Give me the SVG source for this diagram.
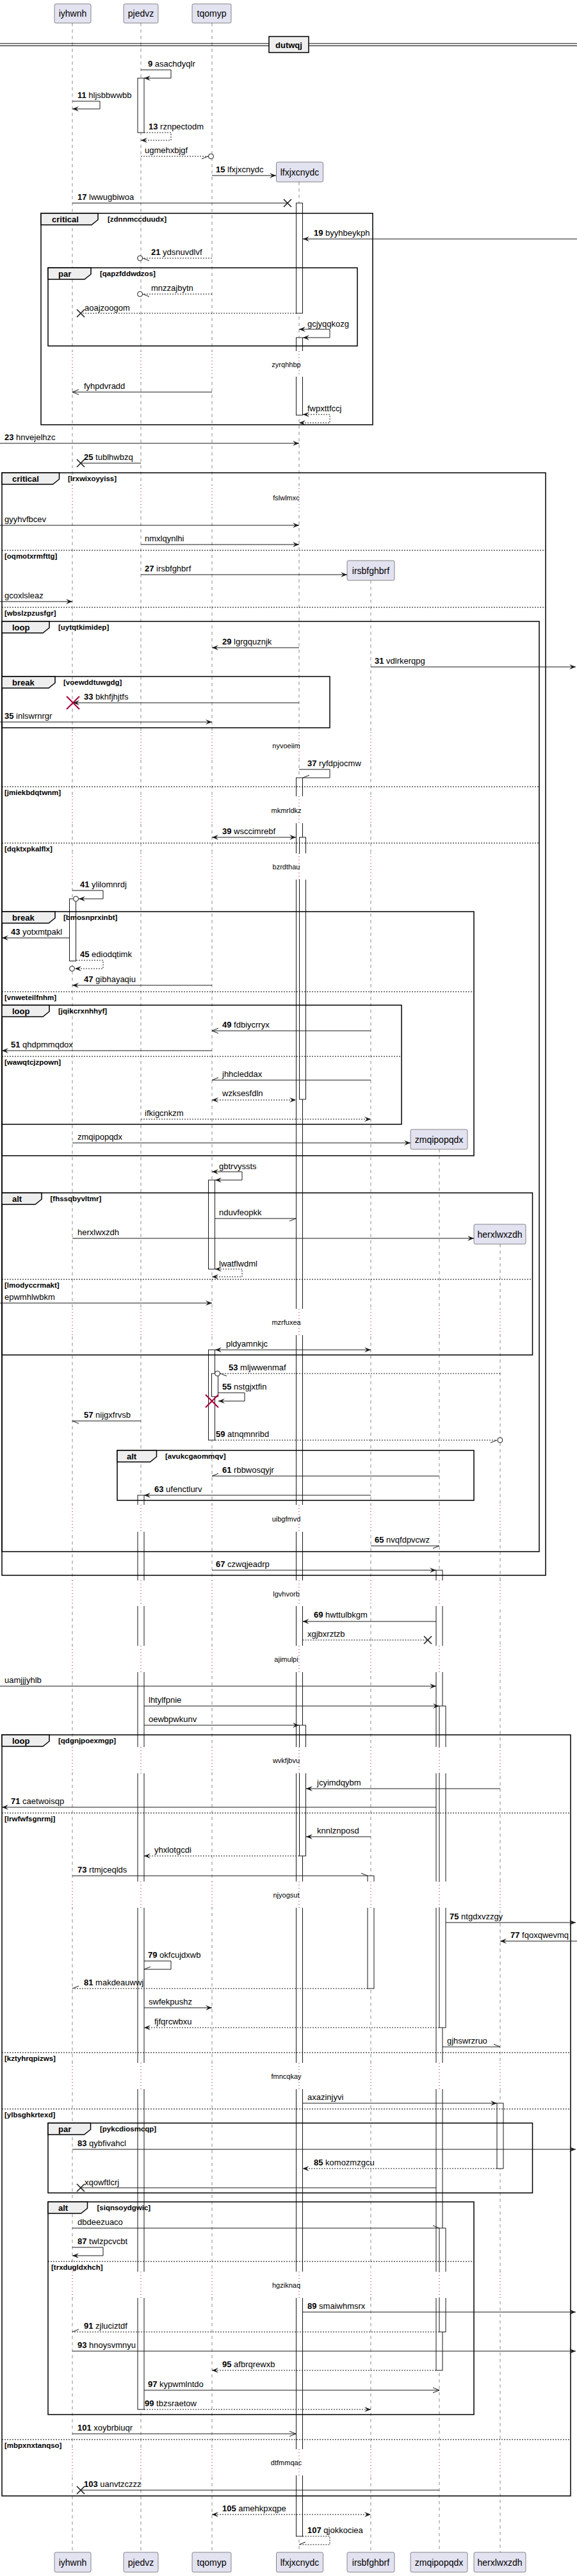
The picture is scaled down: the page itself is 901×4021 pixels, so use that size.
<svg xmlns="http://www.w3.org/2000/svg" width="901" height="4021" viewBox="0 0 901 4021">
<defs>
<style>
text{font-family:"Liberation Sans",Arial,sans-serif;fill:#000}
.pb{fill:#E2E2F0;stroke:#181818;stroke-width:0.5}
.pt{font-size:14px;text-anchor:middle}
.ll{stroke:#181818;stroke-width:0.5;stroke-dasharray:5,5;fill:none}
.dl{stroke:#A80036;stroke-width:1;stroke-dasharray:1,4;fill:none}
.wo{fill:#fff;stroke:none}
.act{fill:#fff;stroke:#181818;stroke-width:1}
.dt{font-size:11px;text-anchor:middle}
.fr{fill:none;stroke:#000;stroke-width:1.5}
.tab{fill:#EEEEEE;stroke:#000;stroke-width:1.5}
.ft{font-size:13px;font-weight:bold}
.fc{font-size:11.5px;font-weight:bold}
.sep{stroke:#000;stroke-width:1;stroke-dasharray:2,2}
.m{fill:none;stroke:#181818;stroke-width:1}
.d{stroke-dasharray:2,2}
.ml{font-size:13px}
.n{font-weight:bold}
.x{stroke:#181818;stroke-width:1.5;fill:none}
.dx{stroke:#A80036;stroke-width:2;fill:none}
.oc{fill:#fff;stroke:#181818;stroke-width:1}
.dv{stroke:#000;stroke-width:1}
.dvb{fill:#EEEEEE;stroke:#000;stroke-width:1.5}
.dvt{font-size:13px;font-weight:bold;text-anchor:middle}
</style>
<marker id="af" viewBox="-1 -1 12 10" refX="10" refY="4" markerWidth="12" markerHeight="10" markerUnits="userSpaceOnUse" orient="auto-start-reverse"><path d="M0,0 L10,4 L0,8 L4,4 Z" fill="#181818"/></marker>
<marker id="ao" viewBox="-1 -1 12 10" refX="10" refY="4" markerWidth="12" markerHeight="10" markerUnits="userSpaceOnUse" orient="auto-start-reverse"><path d="M0,0 L10,4 L0,8" fill="none" stroke="#181818" stroke-width="1"/></marker>
<marker id="hu" viewBox="-1 -1 12 10" refX="10" refY="4" markerWidth="12" markerHeight="10" markerUnits="userSpaceOnUse" orient="auto"><path d="M0,0 L10,4" fill="none" stroke="#181818" stroke-width="1"/></marker>
<marker id="hl" viewBox="-1 -1 12 10" refX="10" refY="4" markerWidth="12" markerHeight="10" markerUnits="userSpaceOnUse" orient="auto"><path d="M0,8 L10,4" fill="none" stroke="#181818" stroke-width="1"/></marker>
</defs>
<rect x="0" y="0" width="901" height="4021" fill="#fff"/>

<g id="lifelines">
<line class="ll" x1="113" y1="36" x2="113" y2="3984"/>
<line class="ll" x1="220" y1="36" x2="220" y2="3984"/>
<line class="ll" x1="331" y1="36" x2="331" y2="3984"/>
<line class="ll" x1="467" y1="284" x2="467" y2="3984"/>
<line class="ll" x1="579" y1="906" x2="579" y2="3984"/>
<line class="ll" x1="686" y1="1794" x2="686" y2="3984"/>
<line class="ll" x1="781" y1="1942" x2="781" y2="3984"/>
</g>

<g id="activations">
<rect class="act" x="215" y="122" width="10" height="85"/>
<rect class="act" x="462.5" y="317" width="10" height="172"/>
<rect class="act" x="462.5" y="527" width="10" height="121"/>
<rect class="act" x="462.5" y="1214" width="10" height="2745"/>
<rect class="act" x="467.5" y="1307" width="10" height="409"/>
<rect class="act" x="467.5" y="2693" width="10" height="204"/>
<rect class="act" x="108.5" y="1403" width="10" height="97"/>
<rect class="act" x="325.5" y="1842" width="10" height="139"/>
<rect class="act" x="325.5" y="2107" width="10" height="141"/>
<rect class="act" x="330.5" y="2144" width="10" height="36"/>
<rect class="act" x="215" y="2334" width="10" height="1427"/>
<rect class="act" x="681" y="2451" width="10" height="1249"/>
<rect class="act" x="686" y="2663" width="10" height="502"/>
<rect class="act" x="686" y="3478" width="10" height="162"/>
<rect class="act" x="574" y="2928" width="10" height="176"/>
<rect class="act" x="776" y="3283" width="10" height="102"/>
</g>

<g id="delays">
<g><rect class="wo" x="101" y="548" width="24" height="40"/><rect class="wo" x="208" y="548" width="24" height="40"/><rect class="wo" x="319" y="548" width="24" height="40"/><rect class="wo" x="455" y="548" width="24" height="40"/>
<path class="dl" d="M113,548V588M220,548V588M331,548V588M467,548V588"/><text class="dt" x="447" y="573">zyrqhhbp</text></g>
<g><rect class="wo" x="101" y="757" width="24" height="40"/><rect class="wo" x="208" y="757" width="24" height="40"/><rect class="wo" x="319" y="757" width="24" height="40"/><rect class="wo" x="455" y="757" width="24" height="40"/>
<path class="dl" d="M113,757V797M220,757V797M331,757V797M467,757V797"/><text class="dt" x="447" y="781">fslwlmxc</text></g>
<g><rect class="wo" x="101" y="1143" width="24" height="42"/><rect class="wo" x="208" y="1143" width="24" height="42"/><rect class="wo" x="319" y="1143" width="24" height="42"/><rect class="wo" x="455" y="1143" width="24" height="42"/><rect class="wo" x="567" y="1143" width="24" height="42"/>
<path class="dl" d="M113,1143V1185M220,1143V1185M331,1143V1185M467,1143V1185M579,1143V1185"/><text class="dt" x="447" y="1168">nyvoeiim</text></g>
<g><rect class="wo" x="101" y="1243" width="24" height="42"/><rect class="wo" x="208" y="1243" width="24" height="42"/><rect class="wo" x="319" y="1243" width="24" height="42"/><rect class="wo" x="455" y="1243" width="24" height="42"/><rect class="wo" x="567" y="1243" width="24" height="42"/>
<path class="dl" d="M113,1243V1285M220,1243V1285M331,1243V1285M467,1243V1285M579,1243V1285"/><text class="dt" x="447" y="1269">mkmrldkz</text></g>
<g><rect class="wo" x="101" y="1332" width="24" height="41"/><rect class="wo" x="208" y="1332" width="24" height="41"/><rect class="wo" x="319" y="1332" width="24" height="41"/><rect class="wo" x="455" y="1332" width="24" height="41"/><rect class="wo" x="567" y="1332" width="24" height="41"/>
<path class="dl" d="M113,1332V1373M220,1332V1373M331,1332V1373M467,1332V1373M579,1332V1373"/><text class="dt" x="447" y="1357">bzrdthau</text></g>
<g><rect class="wo" x="101" y="2043" width="24" height="41"/><rect class="wo" x="208" y="2043" width="24" height="41"/><rect class="wo" x="319" y="2043" width="24" height="41"/><rect class="wo" x="455" y="2043" width="24" height="41"/><rect class="wo" x="567" y="2043" width="24" height="41"/><rect class="wo" x="674" y="2043" width="24" height="41"/><rect class="wo" x="769" y="2043" width="24" height="41"/>
<path class="dl" d="M113,2043V2084M220,2043V2084M331,2043V2084M467,2043V2084M579,2043V2084M686,2043V2084M781,2043V2084"/><text class="dt" x="447" y="2068">mzrfuxea</text></g>
<g><rect class="wo" x="101" y="2349" width="24" height="42"/><rect class="wo" x="208" y="2349" width="24" height="42"/><rect class="wo" x="319" y="2349" width="24" height="42"/><rect class="wo" x="455" y="2349" width="24" height="42"/><rect class="wo" x="567" y="2349" width="24" height="42"/><rect class="wo" x="674" y="2349" width="24" height="42"/><rect class="wo" x="769" y="2349" width="24" height="42"/>
<path class="dl" d="M113,2349V2391M220,2349V2391M331,2349V2391M467,2349V2391M579,2349V2391M686,2349V2391M781,2349V2391"/><text class="dt" x="447" y="2375">uibgfmvd</text></g>
<g><rect class="wo" x="101" y="2467" width="24" height="40"/><rect class="wo" x="208" y="2467" width="24" height="40"/><rect class="wo" x="319" y="2467" width="24" height="40"/><rect class="wo" x="455" y="2467" width="24" height="40"/><rect class="wo" x="567" y="2467" width="24" height="40"/><rect class="wo" x="674" y="2467" width="24" height="40"/><rect class="wo" x="769" y="2467" width="24" height="40"/>
<path class="dl" d="M113,2467V2507M220,2467V2507M331,2467V2507M467,2467V2507M579,2467V2507M686,2467V2507M781,2467V2507"/><text class="dt" x="447" y="2492">lgvhvorb</text></g>
<g><rect class="wo" x="101" y="2569" width="24" height="41"/><rect class="wo" x="208" y="2569" width="24" height="41"/><rect class="wo" x="319" y="2569" width="24" height="41"/><rect class="wo" x="455" y="2569" width="24" height="41"/><rect class="wo" x="567" y="2569" width="24" height="41"/><rect class="wo" x="674" y="2569" width="24" height="41"/><rect class="wo" x="769" y="2569" width="24" height="41"/>
<path class="dl" d="M113,2569V2610M220,2569V2610M331,2569V2610M467,2569V2610M579,2569V2610M686,2569V2610M781,2569V2610"/><text class="dt" x="447" y="2594">ajimulpi</text></g>
<g><rect class="wo" x="101" y="2727" width="24" height="41"/><rect class="wo" x="208" y="2727" width="24" height="41"/><rect class="wo" x="319" y="2727" width="24" height="41"/><rect class="wo" x="455" y="2727" width="24" height="41"/><rect class="wo" x="567" y="2727" width="24" height="41"/><rect class="wo" x="674" y="2727" width="24" height="41"/><rect class="wo" x="769" y="2727" width="24" height="41"/>
<path class="dl" d="M113,2727V2768M220,2727V2768M331,2727V2768M467,2727V2768M579,2727V2768M686,2727V2768M781,2727V2768"/><text class="dt" x="447" y="2752">wvkfjbvu</text></g>
<g><rect class="wo" x="101" y="2937" width="24" height="41"/><rect class="wo" x="208" y="2937" width="24" height="41"/><rect class="wo" x="319" y="2937" width="24" height="41"/><rect class="wo" x="455" y="2937" width="24" height="41"/><rect class="wo" x="567" y="2937" width="24" height="41"/><rect class="wo" x="674" y="2937" width="24" height="41"/><rect class="wo" x="769" y="2937" width="24" height="41"/>
<path class="dl" d="M113,2937V2978M220,2937V2978M331,2937V2978M467,2937V2978M579,2937V2978M686,2937V2978M781,2937V2978"/><text class="dt" x="447" y="2962">njyogsut</text></g>
<g><rect class="wo" x="101" y="3220" width="24" height="41"/><rect class="wo" x="208" y="3220" width="24" height="41"/><rect class="wo" x="319" y="3220" width="24" height="41"/><rect class="wo" x="455" y="3220" width="24" height="41"/><rect class="wo" x="567" y="3220" width="24" height="41"/><rect class="wo" x="674" y="3220" width="24" height="41"/><rect class="wo" x="769" y="3220" width="24" height="41"/>
<path class="dl" d="M113,3220V3261M220,3220V3261M331,3220V3261M467,3220V3261M579,3220V3261M686,3220V3261M781,3220V3261"/><text class="dt" x="447" y="3245">fmncqkay</text></g>
<g><rect class="wo" x="101" y="3546" width="24" height="41"/><rect class="wo" x="208" y="3546" width="24" height="41"/><rect class="wo" x="319" y="3546" width="24" height="41"/><rect class="wo" x="455" y="3546" width="24" height="41"/><rect class="wo" x="567" y="3546" width="24" height="41"/><rect class="wo" x="674" y="3546" width="24" height="41"/><rect class="wo" x="769" y="3546" width="24" height="41"/>
<path class="dl" d="M113,3546V3587M220,3546V3587M331,3546V3587M467,3546V3587M579,3546V3587M686,3546V3587M781,3546V3587"/><text class="dt" x="447" y="3571">hgziknaq</text></g>
<g><rect class="wo" x="101" y="3823" width="24" height="41"/><rect class="wo" x="208" y="3823" width="24" height="41"/><rect class="wo" x="319" y="3823" width="24" height="41"/><rect class="wo" x="455" y="3823" width="24" height="41"/><rect class="wo" x="567" y="3823" width="24" height="41"/><rect class="wo" x="674" y="3823" width="24" height="41"/><rect class="wo" x="769" y="3823" width="24" height="41"/>
<path class="dl" d="M113,3823V3864M220,3823V3864M331,3823V3864M467,3823V3864M579,3823V3864M686,3823V3864M781,3823V3864"/><text class="dt" x="447" y="3848">dtfmmqac</text></g>
</g>

<g id="participants">
<g id="p-iyhwnh"><rect class="pb" x="85" y="6" width="57" height="30" rx="2.5"/><text class="pt" x="113.5" y="26">iyhwnh</text><rect class="pb" x="85" y="3984" width="57" height="31" rx="2.5"/><text class="pt" x="113.5" y="4005">iyhwnh</text></g>
<g id="p-pjedvz"><rect class="pb" x="193" y="6" width="54" height="30" rx="2.5"/><text class="pt" x="220" y="26">pjedvz</text><rect class="pb" x="193" y="3984" width="54" height="31" rx="2.5"/><text class="pt" x="220" y="4005">pjedvz</text></g>
<g id="p-tqomyp"><rect class="pb" x="300" y="6" width="61" height="30" rx="2.5"/><text class="pt" x="330.5" y="26">tqomyp</text><rect class="pb" x="300" y="3984" width="61" height="31" rx="2.5"/><text class="pt" x="330.5" y="4005">tqomyp</text></g>
<g id="p-lfxjxcnydc"><rect class="pb" x="431.5" y="253" width="73" height="31" rx="2.5"/><text class="pt" x="468" y="274">lfxjxcnydc</text><rect class="pb" x="431.5" y="3984" width="73" height="31" rx="2.5"/><text class="pt" x="468" y="4005">lfxjxcnydc</text></g>
<g id="p-irsbfghbrf"><rect class="pb" x="542" y="875" width="74" height="31" rx="2.5"/><text class="pt" x="579" y="896">irsbfghbrf</text><rect class="pb" x="542" y="3984" width="74" height="31" rx="2.5"/><text class="pt" x="579" y="4005">irsbfghbrf</text></g>
<g id="p-zmqipopqdx"><rect class="pb" x="641" y="1763" width="89" height="31" rx="2.5"/><text class="pt" x="685.5" y="1784">zmqipopqdx</text><rect class="pb" x="641" y="3984" width="89" height="31" rx="2.5"/><text class="pt" x="685.5" y="4005">zmqipopqdx</text></g>
<g id="p-herxlwxzdh"><rect class="pb" x="740" y="1911" width="81" height="31" rx="2.5"/><text class="pt" x="780.5" y="1932">herxlwxzdh</text><rect class="pb" x="740" y="3984" width="81" height="31" rx="2.5"/><text class="pt" x="780.5" y="4005">herxlwxzdh</text></g>
</g>

<g id="divider">
<line class="dv" x1="0" y1="68" x2="901" y2="68"/><line class="dv" x1="0" y1="71.5" x2="901" y2="71.5"/>
<rect class="dvb" x="420" y="57" width="62" height="25"/><text class="dvt" x="451" y="75">dutwqj</text>
</g>

<g id="frames">
<g id="f1"><rect class="fr" x="64" y="333" width="518" height="330"/><path class="tab" d="M64,333H153V343L143,351H64Z"/><text class="ft" x="81" y="347">critical</text><text class="fc" x="168" y="346">[zdnnmccduudx]</text></g>
<g id="f2"><rect class="fr" x="75" y="418" width="483" height="122"/><path class="tab" d="M75,418H142V428L132,436H75Z"/><text class="ft" x="91" y="432">par</text><text class="fc" x="156" y="431">[qapzfddwdzos]</text></g>
<g id="f3"><rect class="fr" x="3" y="738" width="849" height="1721"/><path class="tab" d="M3,738H92.5V748L82.5,756H3Z"/><text class="ft" x="19" y="752">critical</text><text class="fc" x="106" y="751">[lrxwixoyyiss]</text>
<line class="sep" x1="3" y1="859" x2="852" y2="859"/><text class="fc" x="7" y="871.5">[oqmotxrmfttg]</text>
<line class="sep" x1="3" y1="948" x2="852" y2="948"/><text class="fc" x="7" y="960.5">[wbslzpzusfgr]</text></g>
<g id="f4"><rect class="fr" x="3" y="970" width="839" height="1452"/><path class="tab" d="M3,970H77V980L67,988H3Z"/><text class="ft" x="19" y="984">loop</text><text class="fc" x="91" y="983">[uytqtkimidep]</text>
<line class="sep" x1="3" y1="1228" x2="842" y2="1228"/><text class="fc" x="7" y="1240.5">[jmiekbdqtwnm]</text>
<line class="sep" x1="3" y1="1316" x2="842" y2="1316"/><text class="fc" x="7" y="1328.5">[dqktxpkalflx]</text></g>
<g id="f5"><rect class="fr" x="3" y="1056" width="512" height="80"/><path class="tab" d="M3,1056H86V1066L76,1074H3Z"/><text class="ft" x="19" y="1070">break</text><text class="fc" x="99" y="1069">[voewddtuwgdg]</text></g>
<g id="f6"><rect class="fr" x="3" y="1423" width="737" height="381"/><path class="tab" d="M3,1423H86V1433L76,1441H3Z"/><text class="ft" x="19" y="1437">break</text><text class="fc" x="99" y="1436">[bmosnprxinbt]</text>
<line class="sep" x1="3" y1="1548" x2="740" y2="1548"/><text class="fc" x="7" y="1560.5">[vnweteilfnhm]</text></g>
<g id="f7"><rect class="fr" x="3" y="1569" width="624" height="186"/><path class="tab" d="M3,1569H77V1579L67,1587H3Z"/><text class="ft" x="19" y="1583">loop</text><text class="fc" x="91" y="1582">[jqikcrxnhhyf]</text>
<line class="sep" x1="3" y1="1649" x2="627" y2="1649"/><text class="fc" x="7" y="1661.5">[wawqtcjzpown]</text></g>
<g id="f8"><rect class="fr" x="3" y="1862" width="828.5" height="253"/><path class="tab" d="M3,1862H65V1872L55,1880H3Z"/><text class="ft" x="19" y="1876">alt</text><text class="fc" x="78.5" y="1875">[fhssqbyvltmr]</text>
<line class="sep" x1="3" y1="1997" x2="831.5" y2="1997"/><text class="fc" x="7" y="2009.5">[lmodyccrmakt]</text></g>
<g id="f9"><rect class="fr" x="183" y="2264" width="557" height="78"/><path class="tab" d="M183,2264H244.5V2274L234.5,2282H183Z"/><text class="ft" x="198" y="2278">alt</text><text class="fc" x="258" y="2277">[avukcgaommqv]</text></g>
<g id="f10"><rect class="fr" x="3" y="2708" width="888" height="1188"/><path class="tab" d="M3,2708H77V2718L67,2726H3Z"/><text class="ft" x="19" y="2722">loop</text><text class="fc" x="91" y="2721">[qdgnjpoexmgp]</text>
<line class="sep" x1="3" y1="2830" x2="891" y2="2830"/><text class="fc" x="7" y="2842.5">[lrwfwfsgnrmj]</text>
<line class="sep" x1="3" y1="3204" x2="891" y2="3204"/><text class="fc" x="7" y="3216.5">[kztyhrqpizws]</text>
<line class="sep" x1="3" y1="3292" x2="891" y2="3292"/><text class="fc" x="7" y="3304.5">[ylbsghkrtexd]</text>
<line class="sep" x1="3" y1="3808" x2="891" y2="3808"/><text class="fc" x="7" y="3820.5">[mbpxnxtanqso]</text></g>
<g id="f11"><rect class="fr" x="75" y="3314" width="756.5" height="109"/><path class="tab" d="M75,3314H141.5V3324L131.5,3332H75Z"/><text class="ft" x="91" y="3328">par</text><text class="fc" x="156" y="3327">[pykcdiosmcqp]</text></g>
<g id="f12"><rect class="fr" x="75" y="3437" width="665" height="332"/><path class="tab" d="M75,3437H136.5V3447L126.5,3455H75Z"/><text class="ft" x="91" y="3451">alt</text><text class="fc" x="151.5" y="3450">[siqnsoydgwic]</text>
<line class="sep" x1="75" y1="3530" x2="740" y2="3530"/><text class="fc" x="80" y="3542.5">[trxdugldxhch]</text></g>
</g>

<g id="connectors">
<path class="m" d="M220,109H267V122H225" marker-end="url(#af)"/>
<path class="m" d="M113,158H156V170H113" marker-end="url(#af)"/>
<path class="m d" d="M225,207H267V219H220" marker-end="url(#af)"/>
<path class="m d" d="M220,244H325" marker-end="url(#hl)"/><circle class="oc" cx="329.5" cy="244" r="4"/>
<path class="m" d="M331,274H431" marker-end="url(#af)"/>
<path class="m" d="M113,317H449"/><path class="x" d="M443,311L455,323M455,311L443,323"/>
<path class="m" d="M901,373H473" marker-end="url(#af)"/>
<path class="m d" d="M331,403H223" marker-end="url(#hu)"/><circle class="oc" cx="218.6" cy="403" r="4"/>
<path class="m d" d="M331,459H223" marker-end="url(#hu)"/><circle class="oc" cx="218.6" cy="459" r="4"/>
<path class="m d" d="M463,489H126"/><path class="x" d="M120,483L132,495M132,483L120,495"/>
<path class="m" d="M467,514H515V527H473" marker-start="url(#af)" marker-end="url(#af)"/>
<path class="m" d="M331,612H113" marker-end="url(#ao)"/>
<path class="m d" d="M473,647H515V660H467" marker-start="url(#af)" marker-end="url(#af)"/>
<path class="m" d="M0,692H467" marker-end="url(#af)"/>
<path class="m" d="M220,723H126"/><path class="x" d="M120,717L132,729M132,717L120,729"/>
<path class="m" d="M0,820H467" marker-end="url(#af)"/>
<path class="m" d="M220,850H467" marker-end="url(#af)"/>
<path class="m" d="M220,897H542" marker-end="url(#af)"/>
<path class="m" d="M0,939H113" marker-end="url(#af)"/>
<path class="m" d="M467,1011H331" marker-end="url(#af)"/>
<path class="m" d="M579,1041H899" marker-end="url(#af)"/>
<path class="m" d="M467,1097H114" marker-end="url(#af)"/><path class="dx" d="M104,1087L124,1107M124,1087L104,1107"/>
<path class="m" d="M0,1127H331" marker-end="url(#af)"/>
<path class="m" d="M467,1201H515V1214H473" marker-end="url(#hl)"/>
<path class="m" d="M331,1307H462" marker-start="url(#af)" marker-end="url(#af)"/>
<path class="m" d="M113,1390H161V1403H123" marker-end="url(#af)"/><circle class="oc" cx="118.5" cy="1403" r="4"/>
<path class="m" d="M109,1464H3" marker-end="url(#af)"/>
<path class="m d" d="M119,1499H161V1512H117" marker-end="url(#af)"/><circle class="oc" cx="112.5" cy="1512" r="4"/>
<path class="m" d="M331,1538H113" marker-end="url(#af)"/>
<path class="m" d="M579,1609H331" marker-end="url(#ao)"/>
<path class="m" d="M331,1640H3" marker-end="url(#af)"/>
<path class="m" d="M579,1686H331" marker-end="url(#hl)"/>
<path class="m d" d="M331,1717H462" marker-start="url(#af)" marker-end="url(#af)"/>
<path class="m d" d="M220,1747H579" marker-end="url(#af)"/>
<path class="m" d="M113,1784H641" marker-end="url(#af)"/>
<path class="m" d="M331,1829H378V1842H336" marker-start="url(#af)" marker-end="url(#af)"/>
<path class="m" d="M336,1902H462" marker-end="url(#hl)"/>
<path class="m" d="M113,1933H740" marker-end="url(#af)"/>
<path class="m d" d="M336,1981H378V1993H331" marker-start="url(#af)" marker-end="url(#af)"/>
<path class="m" d="M0,2034H331" marker-end="url(#af)"/>
<path class="m" d="M336,2107H579" marker-start="url(#af)" marker-end="url(#af)"/>
<path class="m d" d="M781,2144H344" marker-end="url(#hu)"/><circle class="oc" cx="339.5" cy="2144" r="4"/>
<path class="m" d="M341,2174H382V2187H341" marker-end="url(#af)"/><path class="dx" d="M321,2177L341,2197M341,2177L321,2197"/>
<path class="m" d="M220,2218H113" marker-end="url(#hu)"/>
<path class="m d" d="M336,2248H776" marker-end="url(#hl)"/><circle class="oc" cx="780.8" cy="2248" r="4"/>
<path class="m" d="M686,2304H331" marker-end="url(#hl)"/>
<path class="m" d="M579,2334H225" marker-end="url(#af)"/>
<path class="m" d="M579,2413H686" marker-end="url(#hl)"/>
<path class="m" d="M331,2451H681" marker-end="url(#af)"/>
<path class="m" d="M681,2531H472.5" marker-end="url(#af)"/>
<path class="m d" d="M472.5,2560H668"/><path class="x" d="M662,2554L674,2566M674,2554L662,2566"/>
<path class="m" d="M0,2632H681" marker-end="url(#af)"/>
<path class="m" d="M225,2663H686" marker-end="url(#af)"/>
<path class="m" d="M225,2693H467" marker-end="url(#af)"/>
<path class="m" d="M781,2792H478" marker-end="url(#af)"/>
<path class="m" d="M681,2821H3" marker-end="url(#af)"/>
<path class="m" d="M579,2867H478" marker-end="url(#af)"/>
<path class="m d" d="M467,2897H225" marker-end="url(#af)"/>
<path class="m" d="M113,2928H574" marker-end="url(#hu)"/>
<path class="m" d="M696,3001H899" marker-end="url(#af)"/>
<path class="m" d="M901,3030H781" marker-end="url(#af)"/>
<path class="m" d="M225,3061H267V3074H225" marker-end="url(#hl)"/>
<path class="m d" d="M574,3104H113" marker-end="url(#hl)"/>
<path class="m" d="M225,3134H331" marker-end="url(#af)"/>
<path class="m d" d="M686,3165H225" marker-end="url(#af)"/>
<path class="m" d="M691,3195H781" marker-end="url(#hu)"/>
<path class="m" d="M472.5,3283H776" marker-end="url(#af)"/>
<path class="m" d="M113,3355H899" marker-end="url(#af)"/>
<path class="m d" d="M776,3385H472.5" marker-end="url(#af)"/>
<path class="m" d="M681,3415H126"/><path class="x" d="M120,3409L132,3421M132,3409L120,3421"/>
<path class="m" d="M113,3478H686" marker-end="url(#hu)"/>
<path class="m" d="M113,3508H161V3521H113" marker-end="url(#af)"/>
<path class="m" d="M472.5,3609H899" marker-end="url(#af)"/>
<path class="m d" d="M686,3640H113" marker-end="url(#hl)"/>
<path class="m" d="M113,3670H899" marker-end="url(#af)"/>
<path class="m d" d="M681,3700H331" marker-end="url(#af)"/>
<path class="m" d="M225,3731H686" marker-end="url(#ao)"/>
<path class="m d" d="M225,3761H579" marker-end="url(#af)"/>
<path class="m" d="M113,3799H462" marker-end="url(#ao)"/>
<path class="m" d="M686,3887H126"/><path class="x" d="M120,3881L132,3893M132,3881L120,3893"/>
<path class="m d" d="M331,3925H579" marker-start="url(#af)" marker-end="url(#af)"/>
<path class="m d" d="M472.5,3959H515V3972H467" marker-end="url(#hl)"/>
</g>

<g id="labels" class="ml">
<text class="ml" x="231" y="104"><tspan class="n">9</tspan> asachdyqlr</text>
<text class="ml" x="121" y="153"><tspan class="n">11</tspan> hljsbbwwbb</text>
<text class="ml" x="232" y="202"><tspan class="n">13</tspan> rznpectodm</text>
<text class="ml" x="226" y="239">ugmehxbjgf</text>
<text class="ml" x="337" y="269"><tspan class="n">15</tspan> lfxjxcnydc</text>
<text class="ml" x="121" y="312"><tspan class="n">17</tspan> lwwugbiwoa</text>
<text class="ml" x="490" y="368"><tspan class="n">19</tspan> byyhbeykph</text>
<text class="ml" x="236" y="398"><tspan class="n">21</tspan> ydsnuvdlvf</text>
<text class="ml" x="236" y="454">mnzzajbytn</text>
<text class="ml" x="132" y="485">aoajzoogom</text>
<text class="ml" x="480" y="510">gcjyqqkozg</text>
<text class="ml" x="131" y="607">fyhpdvradd</text>
<text class="ml" x="480" y="642">fwpxttfccj</text>
<text class="ml" x="7" y="687"><tspan class="n">23</tspan> hnvejelhzc</text>
<text class="ml" x="131" y="718"><tspan class="n">25</tspan> tublhwbzq</text>
<text class="ml" x="7" y="815">gyyhvfbcev</text>
<text class="ml" x="226" y="845">nmxlqynlhi</text>
<text class="ml" x="226" y="892"><tspan class="n">27</tspan> irsbfghbrf</text>
<text class="ml" x="7" y="934">gcoxlsleaz</text>
<text class="ml" x="347" y="1006"><tspan class="n">29</tspan> lgrgquznjk</text>
<text class="ml" x="585" y="1036"><tspan class="n">31</tspan> vdlrkerqpg</text>
<text class="ml" x="131" y="1092"><tspan class="n">33</tspan> bkhfjhjtfs</text>
<text class="ml" x="7" y="1122"><tspan class="n">35</tspan> inlswrnrgr</text>
<text class="ml" x="480" y="1196"><tspan class="n">37</tspan> ryfdpjocmw</text>
<text class="ml" x="347" y="1302"><tspan class="n">39</tspan> wsccimrebf</text>
<text class="ml" x="125" y="1385"><tspan class="n">41</tspan> ylilomnrdj</text>
<text class="ml" x="17" y="1459"><tspan class="n">43</tspan> yotxmtpakl</text>
<text class="ml" x="125" y="1494"><tspan class="n">45</tspan> ediodqtimk</text>
<text class="ml" x="131" y="1533"><tspan class="n">47</tspan> gibhayaqiu</text>
<text class="ml" x="347" y="1604"><tspan class="n">49</tspan> fdbiycrryx</text>
<text class="ml" x="17" y="1635"><tspan class="n">51</tspan> qhdpmmqdox</text>
<text class="ml" x="347" y="1681">jhhcleddax</text>
<text class="ml" x="347" y="1711">wzksesfdln</text>
<text class="ml" x="226" y="1742">ifkigcnkzm</text>
<text class="ml" x="121" y="1779">zmqipopqdx</text>
<text class="ml" x="342" y="1825">gbtrvyssts</text>
<text class="ml" x="342" y="1897">nduvfeopkk</text>
<text class="ml" x="121" y="1928">herxlwxzdh</text>
<text class="ml" x="342" y="1977">lwatflwdml</text>
<text class="ml" x="7" y="2029">epwmhlwbkm</text>
<text class="ml" x="353" y="2102">pldyamnkjc</text>
<text class="ml" x="357" y="2139"><tspan class="n">53</tspan> mljwwenmaf</text>
<text class="ml" x="347" y="2169"><tspan class="n">55</tspan> nstgjxtfin</text>
<text class="ml" x="131" y="2213"><tspan class="n">57</tspan> nijgxfrvsb</text>
<text class="ml" x="337" y="2243"><tspan class="n">59</tspan> atnqmnribd</text>
<text class="ml" x="347" y="2299"><tspan class="n">61</tspan> rbbwosqyjr</text>
<text class="ml" x="241" y="2329"><tspan class="n">63</tspan> ufenctlurv</text>
<text class="ml" x="585" y="2408"><tspan class="n">65</tspan> nvqfdpvcwz</text>
<text class="ml" x="337" y="2446"><tspan class="n">67</tspan> czwqjeadrp</text>
<text class="ml" x="490" y="2525"><tspan class="n">69</tspan> hwttulbkgm</text>
<text class="ml" x="480" y="2555">xgjbxrztzb</text>
<text class="ml" x="7" y="2627">uamjjjyhlb</text>
<text class="ml" x="232" y="2658">lhtylfpnie</text>
<text class="ml" x="232" y="2688">oewbpwkunv</text>
<text class="ml" x="495" y="2787">jcyimdqybm</text>
<text class="ml" x="17" y="2816"><tspan class="n">71</tspan> caetwoisqp</text>
<text class="ml" x="495" y="2862">knnlznposd</text>
<text class="ml" x="241" y="2892">yhxlotgcdi</text>
<text class="ml" x="121" y="2923"><tspan class="n">73</tspan> rtmjceqlds</text>
<text class="ml" x="702" y="2996"><tspan class="n">75</tspan> ntgdxvzzgy</text>
<text class="ml" x="797" y="3025"><tspan class="n">77</tspan> fqoxqwevmq</text>
<text class="ml" x="231" y="3056"><tspan class="n">79</tspan> okfcujdxwb</text>
<text class="ml" x="131" y="3099"><tspan class="n">81</tspan> makdeauwwj</text>
<text class="ml" x="232" y="3129">swfekpushz</text>
<text class="ml" x="241" y="3160">fjfqrcwbxu</text>
<text class="ml" x="698" y="3190">gjhswrzruo</text>
<text class="ml" x="480" y="3278">axazinjyvi</text>
<text class="ml" x="121" y="3350"><tspan class="n">83</tspan> qybfivahcl</text>
<text class="ml" x="490" y="3380"><tspan class="n">85</tspan> komozmzgcu</text>
<text class="ml" x="132" y="3411">xqowftlcrj</text>
<text class="ml" x="121" y="3473">dbdeezuaco</text>
<text class="ml" x="121" y="3503"><tspan class="n">87</tspan> twlzpcvcbt</text>
<text class="ml" x="480" y="3604"><tspan class="n">89</tspan> smaiwhmsrx</text>
<text class="ml" x="131" y="3635"><tspan class="n">91</tspan> zjluciztdf</text>
<text class="ml" x="121" y="3665"><tspan class="n">93</tspan> hnoysvmnyu</text>
<text class="ml" x="347" y="3695"><tspan class="n">95</tspan> afbrqrewxb</text>
<text class="ml" x="231" y="3726"><tspan class="n">97</tspan> kypwmlntdo</text>
<text class="ml" x="226" y="3756"><tspan class="n">99</tspan> tbzsraetow</text>
<text class="ml" x="121" y="3794"><tspan class="n">101</tspan> xoybrbiuqr</text>
<text class="ml" x="131" y="3882"><tspan class="n">103</tspan> uanvtzczzz</text>
<text class="ml" x="347" y="3920"><tspan class="n">105</tspan> amehkpxqpe</text>
<text class="ml" x="480" y="3954"><tspan class="n">107</tspan> qjokkociea</text>
</g>
</svg>
